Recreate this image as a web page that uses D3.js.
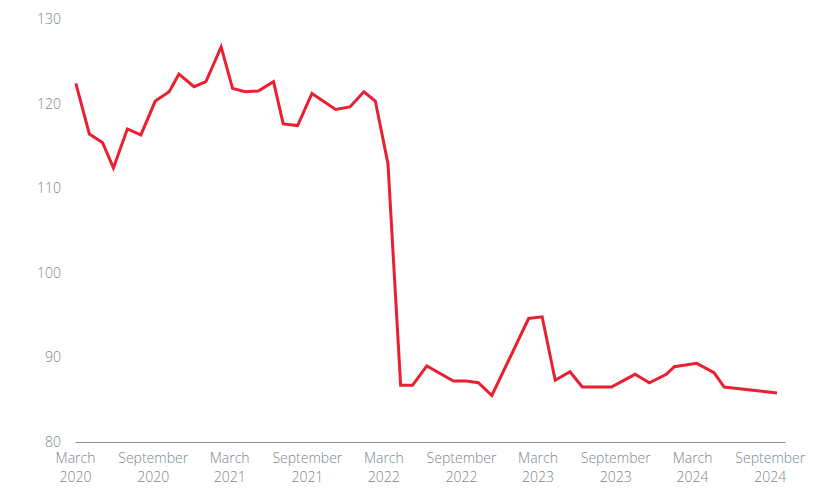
<!DOCTYPE html>
<html>
<head>
<meta charset="utf-8">
<script src="https://cdn.jsdelivr.net/npm/d3@7"></script>
<style>
  html, body { margin: 0; padding: 0; background: #fff; }
  svg { display: block; }
  text { font-family: "Open Sans", "Noto Sans", sans-serif; }
</style>
</head>
<body>
<svg id="chart" width="821" height="495"></svg>
<script>
// ---- data ----
const dates = [
  "2020-03-03","2020-04-04","2020-05-05","2020-05-31","2020-07-03","2020-08-04",
  "2020-09-07","2020-10-10","2020-11-02","2020-12-08","2021-01-05","2021-02-10",
  "2021-03-09","2021-04-08","2021-05-09","2021-06-14","2021-07-07","2021-08-10",
  "2021-09-13","2021-11-08","2021-12-12","2022-01-14","2022-02-10","2022-03-12",
  "2022-04-11","2022-05-09","2022-06-12","2022-08-14","2022-09-13","2022-10-12",
  "2022-11-13","2023-02-08","2023-03-12","2023-04-12","2023-05-17","2023-06-15",
  "2023-08-23","2023-10-18","2023-11-21","2023-12-31","2024-01-19","2024-03-12",
  "2024-04-22","2024-05-16","2024-09-18"
];
const values = [
  122.4, 116.4, 115.4, 112.4, 117.0, 116.3,
  120.3, 121.4, 123.5, 122.0, 122.6, 126.7,
  121.8, 121.4, 121.5, 122.6, 117.6, 117.4,
  121.2, 119.3, 119.6, 121.4, 120.3, 112.9,
  86.7, 86.7, 89.0, 87.2, 87.2, 87.0,
  85.5, 94.6, 94.8, 87.3, 88.3, 86.5,
  86.5, 88.0, 87.0, 88.0, 88.9, 89.3,
  88.2, 86.5, 85.8
];
const xTickDates = [
  "2020-03-01","2020-09-01","2021-03-01","2021-09-01","2022-03-01",
  "2022-09-01","2023-03-01","2023-09-01","2024-03-01","2024-09-01"
];
const yTicks = [80, 90, 100, 110, 120, 130];
const xDomain = ["2020-03-01", "2024-10-07"];
const yDomain = [80, 130];

// ---- chart ----
const parse = d3.utcParse("%Y-%m-%d");
const data = dates.map((d, i) => ({ date: parse(d), value: values[i] }));

const svg = d3.select("#chart");
const x = d3.scaleUtc().domain(xDomain.map(parse)).range([75, 785]);
const y = d3.scaleLinear().domain(yDomain).range([442, 19]);

const grey = "#7d868e";

// y axis labels
const yAxis = svg.append("g")
  .attr("transform", "translate(61,0)")
  .call(d3.axisLeft(y).tickValues(yTicks).tickSize(0).tickPadding(0).tickFormat(d3.format("d")));
yAxis.select(".domain").remove();
yAxis.selectAll("text")
  .attr("fill", grey)
  .style("font-size", "14px")
  .style("font-weight", "300");

// x axis
const xAxis = svg.append("g")
  .attr("transform", "translate(0,442)")
  .call(d3.axisBottom(x).tickValues(xTickDates.map(parse)).tickSize(0).tickSizeOuter(0).tickFormat(() => ""));
xAxis.select(".domain").attr("stroke", "#8c9196").attr("stroke-width", 1.2);
xAxis.selectAll(".tick text").remove();
const monthFmt = d3.utcFormat("%B"), yearFmt = d3.utcFormat("%Y");
xAxis.selectAll(".tick").each(function(d) {
  const t = d3.select(this).append("text")
    .attr("fill", grey)
    .attr("text-anchor", "middle")
    .style("font-size", "14px")
    .style("font-weight", "300");
  t.append("tspan").attr("x", 0).attr("y", 21).text(monthFmt(d));
  t.append("tspan").attr("x", 0).attr("y", 40).text(yearFmt(d));
});

// line
const line = d3.line().x(d => x(d.date)).y(d => y(d.value));
svg.append("path")
  .datum(data)
  .attr("fill", "none")
  .attr("stroke", "#e8202f")
  .attr("stroke-width", 3)
  .attr("stroke-linejoin", "miter")
  .attr("d", line);
</script>
</body>
</html>
